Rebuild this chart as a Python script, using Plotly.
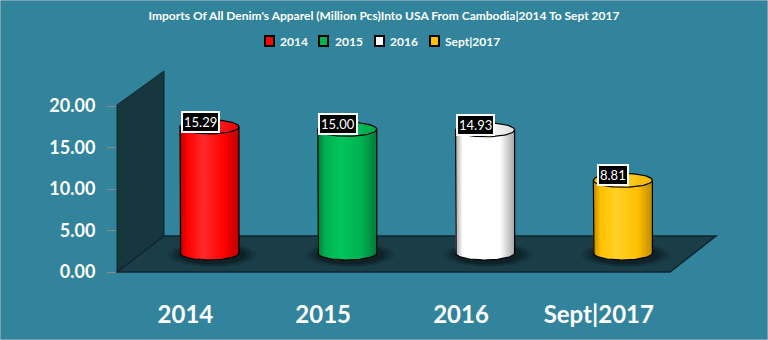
import numpy as np
import plotly.graph_objects as go

# ---------------- data ----------------
categories = ["2014", "2015", "2016", "Sept|2017"]
values = [15.29, 15.00, 14.93, 8.81]
y_ticks = [0, 5, 10, 15, 20]
title_text = "Imports Of All Denim's Apparel (Million Pcs)Into USA From Cambodia|2014 To Sept 2017"

# ---------------- style ----------------
base_colors = ["#FF0000", "#00B050", "#FFFFFF", "#FFC000"]
dark_colors = ["#B80000", "#007A38", "#A6A6A6", "#C08A00"]
light_colors = ["#FF2A2A", "#00C65C", "#FFFFFF", "#FFD028"]
top_colors = ["#E80000", "#00A64B", "#DCDCDC", "#F2B600"]
BG = "#31849B"
WALL = "#17373F"
FLOOR = "#1A3D48"
W, H = 768, 340

def px(x):
    return x / W

def py(y):
    return 1 - y / H

# plot area in pixels
PL, PR, PT, PB = 117, 720, 60, 298
# main y axis: 0 at 272, 20 at 106
s_main = (272 - 106) / 20.0
y_range = [-(PB - 272) / s_main, (272 - PT) / s_main]
# bar axis: 0 at 253
s_bar = 8.25
y2_range = [-(PB - 253) / s_bar, (253 - PT) / s_bar]
# x axis: categories at 209.5 + 137.8*i
sx = 137.8
x_range = [(PL - 209.5) / sx, (PR - 209.5) / sx]

hw = 29.5 / sx          # half bar width in x units
ry = 7.0 / s_bar        # ellipse half height in y2 units

fig = go.Figure()
xs_all = list(range(len(categories)))

# anchor trace for the main value axis
fig.add_trace(go.Scatter(x=[None], y=[None], mode="markers", showlegend=False,
                         hoverinfo="skip"))

# base bars
for i, (c, v) in enumerate(zip(categories, values)):
    fig.add_trace(go.Bar(
        x=[xs_all[i]], y=[v], name=c, width=2 * hw,
        marker=dict(color=base_colors[i], line=dict(color="black", width=0)),
        yaxis="y2", hoverinfo="skip", showlegend=False,
    ))

for i, v in enumerate(values):
    xc = xs_all[i]
    # shadow
    for sc, op in [(1.5, 0.12), (1.32, 0.16), (1.16, 0.22)]:
        t = np.linspace(0, 2 * np.pi, 60)
        fig.add_trace(go.Scatter(
            x=xc + 0.02 + hw * sc * np.cos(t), y=-0.2 + ry * (sc + 0.25) * np.sin(t),
            fill="toself", fillcolor=f"rgba(0,0,0,{op})", line=dict(width=0),
            mode="lines", yaxis="y2", showlegend=False, hoverinfo="skip",
        ))
    # body
    t = np.linspace(np.pi, 2 * np.pi, 50)
    bx = np.concatenate([[xc - hw, xc - hw], xc + hw * np.cos(t), [xc + hw, xc - hw]])
    by = np.concatenate([[v, 0], ry * np.sin(t), [v, v]])
    fig.add_trace(go.Scatter(
        x=bx, y=by, fill="toself", mode="lines",
        line=dict(color="black", width=1.2),
        fillgradient=dict(type="horizontal", colorscale=[
            [0.0, dark_colors[i]], [0.12, base_colors[i]], [0.4, light_colors[i]],
            [0.75, base_colors[i]], [1.0, dark_colors[i]]]),
        yaxis="y2", showlegend=False, hoverinfo="skip",
    ))
    # top ellipse
    t = np.linspace(0, 2 * np.pi, 80)
    fig.add_trace(go.Scatter(
        x=xc + hw * np.cos(t), y=v + ry * np.sin(t), fill="toself", mode="lines",
        line=dict(color="black", width=1.2),
        fillgradient=dict(type="horizontal", colorscale=[
            [0.0, top_colors[i]], [0.5, light_colors[i]], [1.0, top_colors[i]]]),
        yaxis="y2", showlegend=False, hoverinfo="skip",
    ))

# data labels
annotations = []
for i, v in enumerate(values):
    annotations.append(dict(
        x=xs_all[i], y=v, xref="x", yref="y2", text=f"{v:.2f}", showarrow=False,
        xshift=-9.5, yshift=5,
        font=dict(family="Lato", size=13, color="white"),
        bgcolor="black", bordercolor="white", borderwidth=2, borderpad=1,
    ))

# 3D frame (wall + floor) as decorative shapes
def path(points):
    return "M " + " L ".join(f"{px(a)},{py(b)}" for a, b in points) + " Z"

shapes = [
    dict(type="path", xref="paper", yref="paper", layer="below",
         path=path([(117, 272), (117, 105), (164, 71), (164, 236)]),
         fillcolor=WALL, line=dict(color="#0E262D", width=1)),
    dict(type="path", xref="paper", yref="paper", layer="below",
         path=path([(117, 272), (670, 272), (716, 236), (164, 236)]),
         fillcolor=FLOOR, line=dict(color="#0E262D", width=1.5)),
]

# custom legend (square swatch + label), laid out to match the reference
legend_sq_x = [265, 319, 375, 430]
legend_txt_x = [278, 333, 388, 443]
legend_y = 41
for i, c in enumerate(categories):
    shapes.append(dict(type="rect", xref="paper", yref="paper",
                       x0=px(legend_sq_x[i]), x1=px(legend_sq_x[i] + 9),
                       y0=py(legend_y + 5), y1=py(legend_y - 5),
                       fillcolor=base_colors[i], line=dict(color="black", width=2)))
    annotations.append(dict(x=px(legend_txt_x[i]), y=py(legend_y), xref="paper", yref="paper",
                            xanchor="left", yanchor="middle", showarrow=False,
                            text=f"<b>{c}</b>",
                            font=dict(family="Lato", size=12, color="white")))

shapes.append(dict(type="rect", xref="paper", yref="paper", x0=0, y0=0, x1=1, y1=1,
                   line=dict(color="#BFBFBF", width=1), layer="above"))

fig.update_layout(
    width=W, height=H,
    margin=dict(l=0, r=0, t=0, b=0),
    paper_bgcolor=BG, plot_bgcolor="rgba(0,0,0,0)",
    title=dict(text=f"<b>{title_text}</b>", x=0.5, xanchor="center", y=py(16), yanchor="middle",
               font=dict(family="Lato", size=12, color="white")),
    showlegend=False,
    barmode="overlay",
    xaxis=dict(domain=[px(PL), px(PR)], range=x_range, showgrid=False, zeroline=False,
               showline=False, tickvals=[i - 0.175 for i in xs_all], ticktext=categories,
               tickfont=dict(family="Lato", size=24, color="white", weight="bold"),
               ticks="", fixedrange=True),
    yaxis=dict(domain=[py(PB), py(PT)], range=y_range, showgrid=False, zeroline=False,
               showline=False, tickvals=y_ticks, ticktext=[f"{t:.2f}" for t in y_ticks],
               tickfont=dict(family="Lato", size=18, color="white", weight="bold"),
               ticks="outside", ticklen=9, tickcolor="#8C8C8C", ticklabelstandoff=8,
               fixedrange=True),
    yaxis2=dict(overlaying="y", range=y2_range, visible=False, fixedrange=True),
    shapes=shapes,
    annotations=annotations,
    hovermode=False,
)

fig.write_html("out.html")
